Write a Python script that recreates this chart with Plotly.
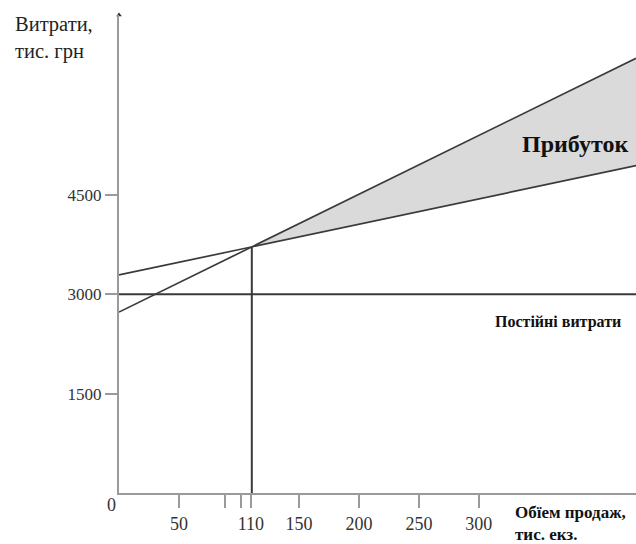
import plotly.graph_objects as go

# ---- data ----
volume_ends = [0, 431]          # тис. екз. (left axis edge to right plot edge)
revenue = [2730, 6560]          # steeper line
total_cost = [3290, 4940]       # flatter line
fixed_cost = [3000, 3000]       # постійні витрати
x_tickvals = [50, 88, 102, 110, 150, 200, 250, 300]
x_ticktext = ["50", "", "", "110", "150", "200", "250", "300"]
y_tickvals = [1500, 3000, 4500]
y_ticktext = ["1500", "3000", "4500"]
y_max = 7213

# break-even point from the two lines
rev_slope = (revenue[1] - revenue[0]) / (volume_ends[1] - volume_ends[0])
cost_slope = (total_cost[1] - total_cost[0]) / (volume_ends[1] - volume_ends[0])
be_x = (total_cost[0] - revenue[0]) / (rev_slope - cost_slope)
be_y = total_cost[0] + cost_slope * be_x

SERIF = "Liberation Serif, Times New Roman, serif"
LINE = "#3a3a3a"
AXIS = "#9a9a9a"

fig = go.Figure()

# profit area
fig.add_trace(go.Scatter(x=[be_x, volume_ends[1]], y=[be_y, total_cost[1]],
                         mode="lines", line=dict(width=0), showlegend=False, hoverinfo="skip"))
fig.add_trace(go.Scatter(x=[be_x, volume_ends[1]], y=[be_y, revenue[1]],
                         mode="lines", line=dict(width=0), fill="tonexty",
                         fillcolor="#dadada", showlegend=False, hoverinfo="skip"))

# lines
fig.add_trace(go.Scatter(x=volume_ends, y=fixed_cost, mode="lines",
                         line=dict(color=LINE, width=2), showlegend=False))
fig.add_trace(go.Scatter(x=volume_ends, y=total_cost, mode="lines",
                         line=dict(color=LINE, width=1.7), showlegend=False))
fig.add_trace(go.Scatter(x=volume_ends, y=revenue, mode="lines",
                         line=dict(color=LINE, width=1.7), showlegend=False))
fig.add_trace(go.Scatter(x=[be_x, be_x], y=[0, be_y], mode="lines",
                         line=dict(color=LINE, width=2), showlegend=False))
# arrow tip of y-axis
fig.add_trace(go.Scatter(x=[0], y=[y_max], mode="markers", cliponaxis=False,
                         marker=dict(symbol="triangle-up", size=5, color="#333"),
                         showlegend=False))

fig.update_layout(
    width=636, height=544,
    margin=dict(l=119, r=0, t=15, b=51),
    paper_bgcolor="white", plot_bgcolor="white",
    font=dict(family=SERIF, color="#222"),
    xaxis=dict(range=[0, 431], showgrid=False, zeroline=False,
               showline=True, linecolor=AXIS, linewidth=2,
               ticks="outside", ticklen=13, tickwidth=1.5, tickcolor=AXIS,
               tickvals=x_tickvals, ticktext=x_ticktext,
               tickfont=dict(family=SERIF, size=18, color="#333")),
    yaxis=dict(range=[0, y_max], showgrid=False, zeroline=False,
               showline=True, linecolor=AXIS, linewidth=2,
               ticks="outside", ticklen=12, tickwidth=1.5, tickcolor=AXIS,
               tickvals=y_tickvals, ticktext=y_ticktext,
               tickfont=dict(family=SERIF, size=17, color="#333")),
)

fig.add_annotation(text="Витрати,<br>тис. грн", xref="paper", yref="paper",
                   x=-106/517, y=1 + 4/478, xanchor="left", yanchor="top",
                   align="left", showarrow=False,
                   font=dict(family=SERIF, size=20.5, color="#222"))
fig.add_annotation(text="0", xref="paper", yref="paper",
                   x=-1/517, y=0, xanchor="right", yanchor="top",
                   showarrow=False, font=dict(family=SERIF, size=18, color="#333"))
fig.add_annotation(text="<b>Прибуток</b>", xref="paper", yref="y",
                   x=1 - 6/517, y=(493 - 144) / 478 * y_max, xanchor="right", yanchor="middle",
                   showarrow=False, font=dict(family=SERIF, size=24, color="#111"))
fig.add_annotation(text="<b>Постійні витрати</b>", xref="paper", yref="y",
                   x=(493 - 119) / 517, y=(493 - 322) / 478 * y_max,
                   xanchor="left", yanchor="middle",
                   showarrow=False, font=dict(family=SERIF, size=16, color="#111"))
fig.add_annotation(text="<b>Обїем продаж,<br>тис. екз.</b>", xref="paper", yref="paper",
                   x=(513 - 119) / 517, y=-8 / 478, xanchor="left", yanchor="top",
                   align="left", showarrow=False,
                   font=dict(family=SERIF, size=17, color="#111"))

fig.write_html("out.html", config={"displayModeBar": False},
               post_script="document.body.style.margin='0';document.body.style.overflow='hidden';")
